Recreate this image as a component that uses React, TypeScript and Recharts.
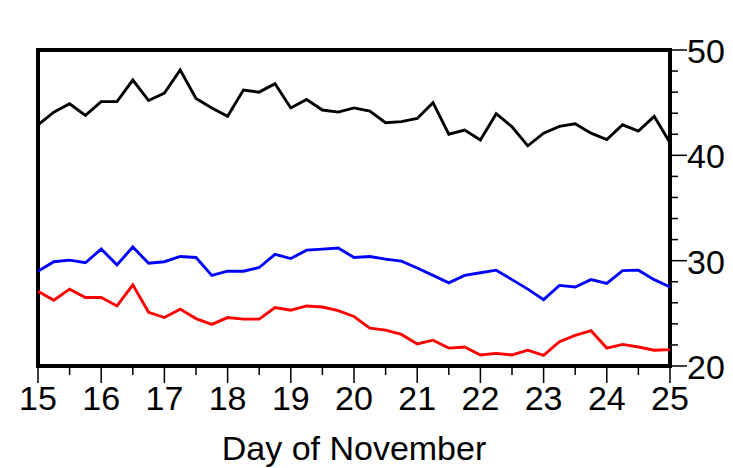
import { LineChart, Line, XAxis, YAxis, ReferenceArea } from "recharts";

const days = [
  15, 15.25, 15.5, 15.75, 16, 16.25, 16.5, 16.75, 17, 17.25, 17.5, 17.75, 18, 18.25, 18.5, 18.75,
  19, 19.25, 19.5, 19.75, 20, 20.25, 20.5, 20.75, 21, 21.25, 21.5, 21.75, 22, 22.25, 22.5, 22.75,
  23, 23.25, 23.5, 23.75, 24, 24.25, 24.5, 24.75, 25,
];

const blackSeries = [
  42.9, 44.1, 44.9, 43.8, 45.1, 45.1, 47.15, 45.2, 45.9, 48.1, 45.4, 44.5, 43.7, 46.2, 46.0, 46.8,
  44.5, 45.3, 44.3, 44.1, 44.5, 44.2, 43.1, 43.2, 43.5, 45.0, 42.0, 42.4, 41.45, 43.95, 42.7, 40.9,
  42.1, 42.75, 43.0, 42.1, 41.5, 42.9, 42.3, 43.7, 41.2,
];

const blueSeries = [
  29.0, 29.9, 30.05, 29.8, 31.1, 29.6, 31.3, 29.75, 29.9, 30.4, 30.3, 28.6, 29.0, 29.0, 29.35, 30.6,
  30.2, 31.0, 31.1, 31.2, 30.3, 30.4, 30.15, 29.96, 29.3, 28.6, 27.9, 28.6, 28.85, 29.1, 28.2, 27.3,
  26.3, 27.65, 27.5, 28.2, 27.85, 29.05, 29.1, 28.2, 27.5,
];

const redSeries = [
  27.1, 26.25, 27.3, 26.5, 26.5, 25.7, 27.7, 25.1, 24.6, 25.4, 24.5, 23.95, 24.6, 24.45, 24.45, 25.55,
  25.3, 25.7, 25.6, 25.25, 24.7, 23.6, 23.4, 23.0, 22.1, 22.45, 21.7, 21.8, 21.05, 21.2, 21.05, 21.5,
  21.0, 22.3, 22.9, 23.35, 21.7, 22.05, 21.8, 21.5, 21.55,
];

const xTicks = [
  15, 15.5, 16, 16.5, 17, 17.5, 18, 18.5, 19, 19.5, 20, 20.5, 21, 21.5, 22, 22.5, 23, 23.5, 24, 24.5, 25,
];
const yTicks = [20, 22, 24, 26, 28, 30, 32, 34, 36, 38, 40, 42, 44, 46, 48, 50];

const data = days.map((d, i) => ({
  day: d,
  black: blackSeries[i],
  blue: blueSeries[i],
  red: redSeries[i],
}));

const FONT = "'Liberation Sans', Arial, Helvetica, sans-serif";

function BottomTick({ x, y, payload }: any) {
  const major = Number.isInteger(payload.value);
  return (
    <g>
      <line x1={x} y1={y} x2={x} y2={y + (major ? 17 : 9)} stroke="#000" strokeWidth={1.5} />
      {major && (
        <text x={x} y={y + 44} textAnchor="middle" fontSize={34} fontFamily={FONT} fill="#000">
          {payload.value}
        </text>
      )}
    </g>
  );
}

function TopTick({ x, y, payload }: any) {
  const major = Number.isInteger(payload.value);
  return <line x1={x} y1={y} x2={x} y2={y - (major ? 16 : 8)} stroke="#000" strokeWidth={1.5} />;
}

function LeftTick({ x, y, payload }: any) {
  const major = payload.value % 10 === 0;
  return <line x1={x} y1={y} x2={x - (major ? 17 : 8)} y2={y} stroke="#000" strokeWidth={1.5} />;
}

function RightTick({ x, y, payload }: any) {
  const major = payload.value % 10 === 0;
  return (
    <g>
      <line x1={x} y1={y} x2={x + (major ? 17 : 8)} y2={y} stroke="#000" strokeWidth={1.5} />
      {major && (
        <text x={x + 17} y={y + 13} textAnchor="start" fontSize={34} fontFamily={FONT} fill="#000">
          {payload.value}
        </text>
      )}
    </g>
  );
}

export default function App() {
  return (
    <div style={{ position: "absolute", left: 0, top: 0, width: 733, height: 468, background: "#fff" }}>
      <LineChart
        width={733}
        height={468}
        data={data}
        margin={{ top: 50, left: 38, right: 3, bottom: 42 }}
      >
        <XAxis
          xAxisId="bottom"
          dataKey="day"
          type="number"
          domain={[15, 25]}
          ticks={xTicks}
          interval={0}
          height={60}
          axisLine={false}
          tickLine={false}
          tickSize={0}
          tickMargin={0}
          tick={<BottomTick />}
        />
        <XAxis
          xAxisId="top"
          orientation="top"
          dataKey="day"
          type="number"
          domain={[15, 25]}
          ticks={xTicks}
          interval={0}
          height={0}
          axisLine={false}
          tickLine={false}
          tickSize={0}
          tickMargin={0}
          tick={<TopTick />}
        />
        <YAxis
          yAxisId="left"
          orientation="left"
          type="number"
          domain={[20, 50]}
          ticks={yTicks}
          interval={0}
          width={0}
          axisLine={false}
          tickLine={false}
          tickSize={0}
          tickMargin={0}
          tick={<LeftTick />}
        />
        <YAxis
          yAxisId="right"
          orientation="right"
          type="number"
          domain={[20, 50]}
          ticks={yTicks}
          interval={0}
          width={60}
          axisLine={false}
          tickLine={false}
          tickSize={0}
          tickMargin={0}
          tick={<RightTick />}
        />
        <Line
          xAxisId="bottom"
          yAxisId="right"
          type="linear"
          dataKey="black"
          stroke="#000000"
          strokeWidth={2.9}
          dot={false}
          isAnimationActive={false}
        />
        <Line
          xAxisId="bottom"
          yAxisId="right"
          type="linear"
          dataKey="blue"
          stroke="#0000ff"
          strokeWidth={2.9}
          dot={false}
          isAnimationActive={false}
        />
        <Line
          xAxisId="bottom"
          yAxisId="right"
          type="linear"
          dataKey="red"
          stroke="#ff0000"
          strokeWidth={2.9}
          dot={false}
          isAnimationActive={false}
        />
        <ReferenceArea
          xAxisId="bottom"
          yAxisId="right"
          x1={15}
          x2={25}
          y1={20}
          y2={50}
          fill="none"
          fillOpacity={0}
          stroke="#000"
          strokeWidth={4}
        />
      </LineChart>
      <div
        style={{
          position: "absolute",
          left: 38,
          width: 632,
          top: 431,
          textAlign: "center",
          fontFamily: FONT,
          fontSize: 34,
          lineHeight: "34px",
          color: "#000",
        }}
      >
        Day of November
      </div>
    </div>
  );
}
